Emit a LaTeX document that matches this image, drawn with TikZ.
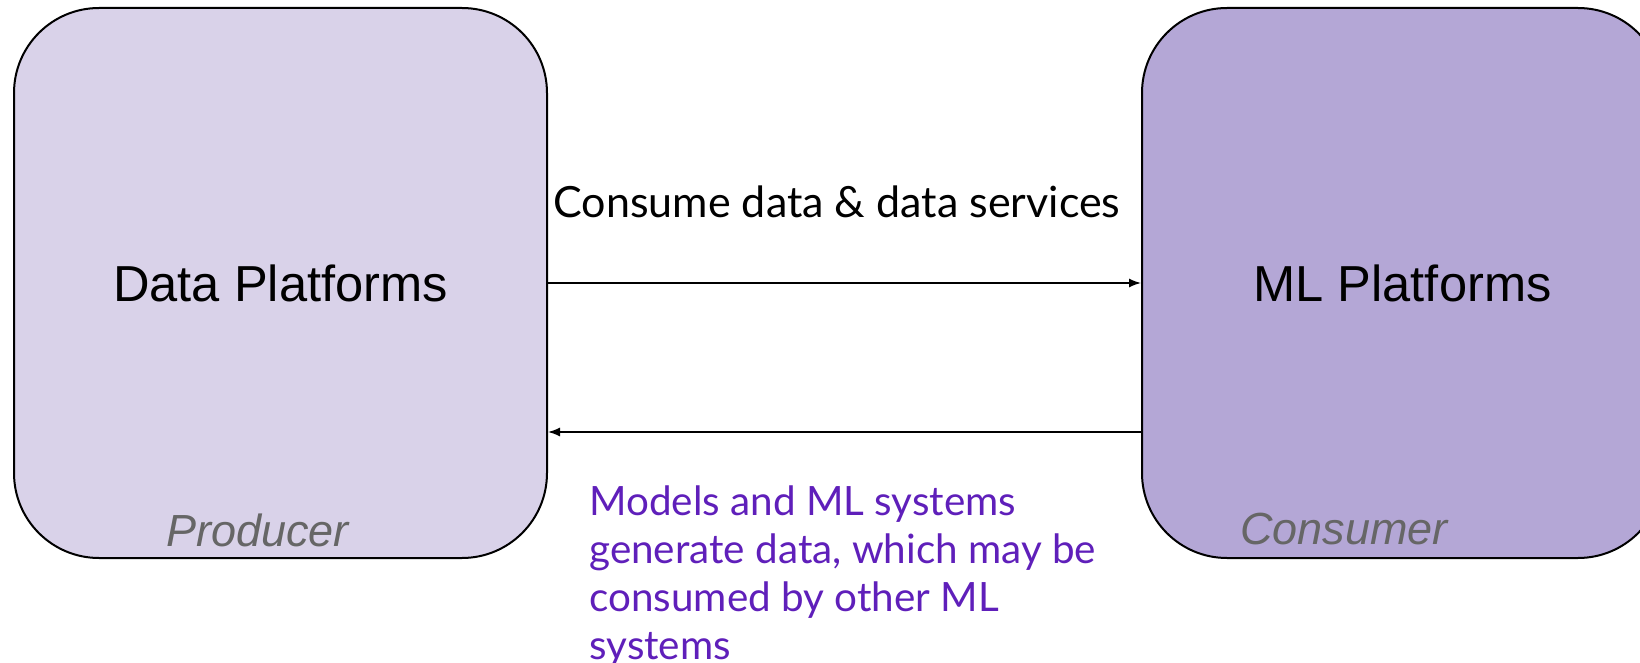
\documentclass[tikz,border=0pt]{standalone}
\usepackage{fontspec}
\setmainfont{Liberation Sans}
\newfontfamily\latofont{Lato}
\usepackage{tikz}
\usetikzlibrary{positioning, arrows.meta}
\definecolor{producerfill}{HTML}{D9D2E9}
\definecolor{consumerfill}{HTML}{B4A7D6}
\definecolor{notepurple}{HTML}{5F1FBA}
\definecolor{rolegray}{HTML}{666666}

\begin{document}
\begin{tikzpicture}[
    platform/.style={draw, line width=1pt, rounded corners=42.5pt, minimum height=275pt,
      font=\fontsize{25.3}{30}\selectfont},
    role label/.style={anchor=base west, inner sep=0pt, text=rolegray,
      font=\fontsize{22.5}{27}\selectfont\itshape},
    flow/.style={line width=0.75pt, -{Latex[length=6pt, width=4.5pt]}},
    flow label/.style={inner sep=0pt, font=\latofont\fontsize{21.5}{25}\selectfont},
    note/.style={anchor=north west, inner sep=0pt, align=left, text=notepurple,
      font=\latofont\fontsize{20.2}{24}\selectfont}
  ]
  \useasboundingbox (0,0) rectangle (820pt,-331.5pt);

  % Boxes
  \node[platform, fill=producerfill, minimum width=266.5pt] (data) at (140.25pt,-141.5pt) {Data Platforms};
  \node[platform, fill=consumerfill, minimum width=260.5pt, right=296.5pt of data] (ml) {ML Platforms};

  % Roles
  \node[role label] (producer) at ([xshift=76.5pt, yshift=6.5pt]data.south west) {Producer};
  \node[role label] (consumer) at ([xshift=49.5pt, yshift=7.5pt]ml.south west) {Consumer};

  % Flows
  \draw[flow] (data) -- node[flow label, above=32pt, xshift=-3.75pt] (consume) {Consume data \& data services} (ml);
  \draw[flow] ([yshift=-74.5pt]ml.west) -- ([yshift=-74.5pt]data.east);

  \node[note] (feedback) at (294.5pt,-242.5pt)
    {Models and ML systems\\generate data, which may be\\consumed by other ML\\systems};

\end{tikzpicture}
\end{document}
